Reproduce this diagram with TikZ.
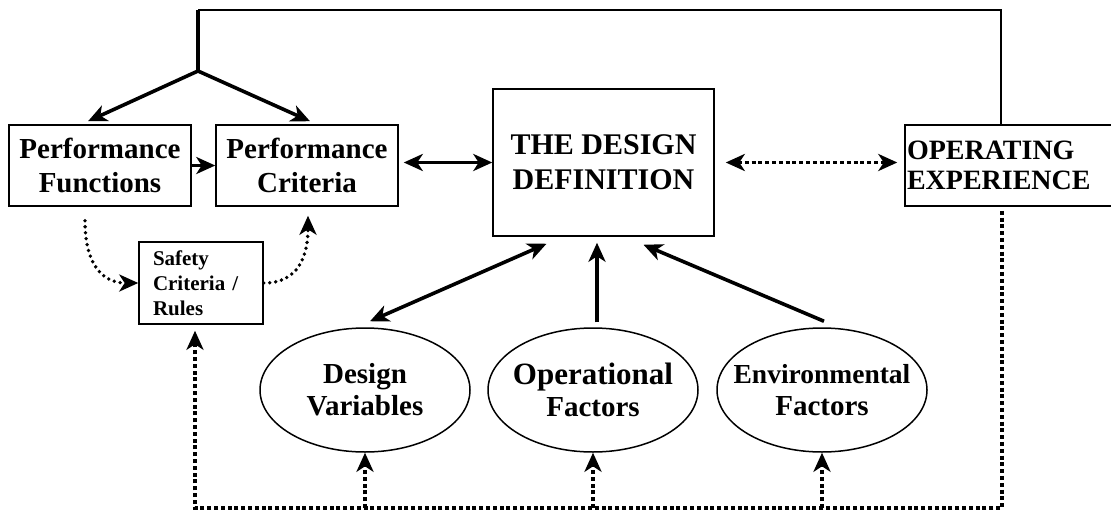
\documentclass[tikz,border=0pt]{standalone}
\usepackage{fontspec}
\setmainfont{Liberation Serif}
\usetikzlibrary{arrows.meta,shapes.geometric}
\tikzset{
  box/.style={draw, rectangle, line width=1.5pt, inner sep=0pt, align=center, font=\bfseries\fontsize{29}{34}\selectfont},
  oval/.style={draw, ellipse, line width=1.5pt, inner xsep=-45pt, inner ysep=-30pt, minimum width=210pt, minimum height=124pt, align=center, font=\bfseries\fontsize{29}{32}\selectfont},
  heavy/.style={line width=3.6pt},
  dots/.style={line width=3.6pt, dash pattern=on 4pt off 2.8pt},
  round dots/.style={line width=3.8pt, line cap=round, dash pattern=on 0pt off 6pt}
}
\begin{document}
\begin{tikzpicture}[x=1pt, y=-1pt, >={Stealth[length=19pt,width=17pt,inset=5.5pt]}]
            \useasboundingbox (0,0) rectangle (1111,511);
            \node(PF) [box, minimum width=182pt, minimum height=81pt] at (100,165.5) {Performance\\Functions};
            \node(PC) [box, minimum width=182pt, minimum height=81pt] at (307,165.5) {Performance\\Criteria};
            \node(SR) [box, align=left, text width=96pt, inner xsep=14pt, minimum height=82pt, font=\bfseries\fontsize{21}{25}\selectfont] at (201,283) {Safety\\Criteria /\\Rules};
            \node(DD) [box, minimum width=221pt, minimum height=147pt, font=\bfseries\fontsize{30}{35}\selectfont] at (603.5,162.5) {THE DESIGN\\DEFINITION};
            \node(OE) [box, align=left, text width=204pt, inner xsep=2pt, minimum height=81pt, font=\bfseries\fontsize{28}{30}\selectfont] at (1009,165.5) {OPERATING\\EXPERIENCE};
            \node(DV) [oval] at (365,390) {Design\\Variables};
            \node(OF) [oval] at (593,390) {{\fontsize{31}{32}\selectfont Operational}\\Factors};
            \node(EF) [oval] at (822,390) {{\fontsize{27.5}{32}\selectfont Environmental}\\Factors};
            \coordinate(top) at (198,10);
            \coordinate(fork) at (198,71);
            \coordinate(bl) at (195,508);
            \coordinate(br) at (1002,508);
            \draw[line width=2pt] ([shift={(-8,0)}]OE.north) |- (top);
            \draw[heavy] (top) -- (fork);
            \draw[heavy, ->] (fork) -- ([shift={(-12,-3)}]PF.north);
            \draw[heavy, ->] (fork) -- ([shift={(3,-3)}]PC.north);
            \draw[heavy, ->] (PF.east) -- (PC.west);
            \draw[heavy, <->, shorten <=5pt] (DD.west -| PC.east) -- (DD.west);
            \draw[dots, <->, shorten <=11pt, shorten >=7pt] (DD.east) -- (DD.east -| OE.west);
            \draw[heavy, <->] ([shift={(5,-6)}]DV.north) -- ([shift={(-57,7)}]DD.south);
            \draw[heavy, ->] ([shift={(4,-5)}]OF.north) -- ([shift={(-6.5,6)}]DD.south);
            \draw[heavy, ->] ([shift={(2,-6)}]EF.north) -- ([shift={(40,8)}]DD.south);
            \draw[round dots, ->] ([shift={(-15,14)}]PF.south) .. controls +(0,45) and +(-35,0) .. (SR.west);
            \draw[round dots, ->] (SR.east) .. controls +(35,0) and +(0,40) .. ([shift={(1,9)}]PC.south);
            \draw[dots, ->] ([shift={(-7,4)}]OE.south) -- (br) -- (bl) -- ([shift={(-6,6)}]SR.south);
            \foreach \n in {DV,OF,EF}
                \draw[dots, ->] (\n.south |- bl) -- (\n.south);
            \end{tikzpicture}
\end{document}
